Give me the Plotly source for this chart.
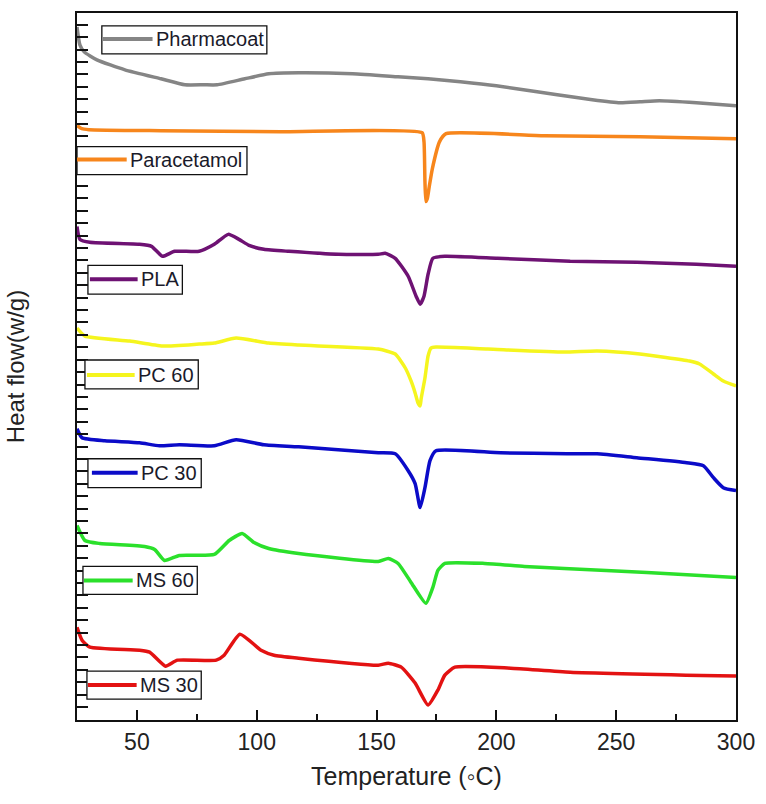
import plotly.graph_objects as go

# Temperature (°C) and heat flow (arbitrary offset units)
pharmacoat_T = [25, 26.2, 28, 33.3, 45, 60, 70, 78, 83.5, 95, 105, 117.5, 140, 159, 171.5, 185, 200, 217, 225.4, 240, 251.6, 260, 268, 283.5, 300]
pharmacoat_hf = [69.5, 67.7, 67.0, 66.2, 65.2, 64.3, 63.7, 63.7, 63.7, 64.3, 64.8, 64.9, 64.8, 64.5, 64.3, 64.0, 63.6, 63.0, 62.7, 62.2, 61.9, 62.0, 62.1, 61.9, 61.6]

paracetamol_T = [25, 27, 30, 60, 110, 169.0, 169.8, 170.2, 170.6, 171.2, 172.0, 173.3, 176.3, 179, 220, 260, 300]
paracetamol_hf = [59.6, 59.3, 59.2, 59.1, 59.0, 58.9, 58.0, 54.0, 52.0, 52.3, 53.5, 55.3, 58.0, 58.8, 58.6, 58.5, 58.3]

pla_T = [25, 26.2, 30.4, 51.1, 56.1, 60.7, 65.7, 76, 82.3, 88.1, 92.6, 96.8, 103, 113.4, 134.1, 150.7, 153.6, 157.8, 163.2, 166.5, 168.2, 169.8, 171.5, 173.5, 178.5, 200.5, 230.8, 258.6, 283.5, 300]
pla_hf = [49.5, 48.2, 47.9, 47.7, 47.5, 46.5, 47.0, 47.0, 47.7, 48.7, 48.2, 47.6, 47.2, 47.0, 46.7, 46.7, 46.8, 46.3, 44.5, 42.5, 41.7, 42.5, 44.7, 46.3, 46.5, 46.3, 46.0, 45.9, 45.7, 45.5]

pc60_T = [25, 28.3, 47, 60.7, 76, 82.3, 91.4, 105, 117.5, 150.7, 157.8, 162, 164.4, 166.1, 167.3, 168.2, 168.6, 170.2, 171.5, 172.7, 174.8, 196.4, 228.3, 242, 259.9, 280.6, 284.8, 290.6, 294.7, 300]
pc60_hf = [39.3, 38.5, 38.0, 37.5, 37.7, 37.8, 38.3, 37.8, 37.6, 37.2, 36.7, 35.3, 34.0, 32.8, 31.8, 31.5, 32.2, 34.3, 36.5, 37.3, 37.4, 37.2, 36.9, 37.0, 36.7, 36.0, 35.7, 34.7, 34.0, 33.5]

pc30_T = [25, 27.1, 36.6, 51.1, 59.4, 67.7, 82.3, 91.4, 103, 117.5, 150.7, 157.8, 163.2, 166.1, 168.2, 170.2, 172.3, 174.8, 201.8, 229.6, 242, 258.6, 279.4, 286.4, 290.6, 294.7, 300]
pc30_hf = [29.2, 28.3, 28.0, 27.8, 27.5, 27.6, 27.5, 28.1, 27.6, 27.4, 26.8, 26.7, 25.0, 23.7, 21.3, 23.3, 26.0, 27.0, 26.8, 26.7, 26.7, 26.3, 25.8, 25.5, 24.3, 23.3, 23.0]

ms60_T = [25, 28.3, 34.5, 53.2, 57.4, 61.5, 67.7, 82.3, 88.5, 93.9, 98.9, 105, 117.5, 150.7, 154.9, 159, 164.4, 170.6, 173.5, 175.6, 178.5, 195.1, 211.7, 228.3, 262.8, 300]
ms60_hf = [19.5, 18.0, 17.7, 17.4, 17.1, 16.0, 16.5, 16.6, 18.0, 18.7, 17.8, 17.2, 16.7, 15.9, 16.2, 15.7, 13.8, 11.7, 13.3, 15.0, 15.7, 15.7, 15.4, 15.2, 14.8, 14.3]

ms30_T = [25, 27.1, 30.4, 51.1, 55.3, 61.9, 66.9, 83.1, 86.4, 93, 101.8, 107.2, 117.5, 150.7, 154.9, 160.3, 166.1, 171.5, 175.6, 178.5, 182.7, 205.9, 230.8, 300]
ms30_hf = [9.3, 8.0, 7.3, 7.0, 6.8, 5.4, 6.0, 6.0, 6.5, 8.6, 7.0, 6.5, 6.2, 5.5, 5.7, 5.3, 3.7, 1.5, 3.0, 4.5, 5.3, 5.2, 4.8, 4.4]

series_names = ["Pharmacoat", "Paracetamol", "PLA", "PC 60", "PC 30", "MS 60", "MS 30"]
series_T = [pharmacoat_T, paracetamol_T, pla_T, pc60_T, pc30_T, ms60_T, ms30_T]
series_hf = [pharmacoat_hf, paracetamol_hf, pla_hf, pc60_hf, pc30_hf, ms60_hf, ms30_hf]
colors = ["#858585", "#F7861C", "#6E1273", "#F5F51E", "#0B0BC8", "#2BE02B", "#E31212"]

x_ticks = [50, 100, 150, 200, 250, 300]

# legend box layout (pixel positions in the 766x804 page)
L, R, T, B = 77, 740, 11, 720
W, H = 766, 804
legend_boxes = [  # x0, y0, x1, y1, line_x0, line_x1, line_y
    (102, 24, 268, 52, 103, 153, 37),
    (77, 145, 248, 173, 77, 127, 158),
    (88, 264, 183, 293, 90, 138, 278),
    (85, 359, 199, 388, 87, 135, 374),
    (88, 458, 202, 487, 92, 138, 472),
    (83, 566, 198, 594, 84, 133, 580),
    (87, 671, 202, 699, 88, 137, 685),
]

def px(x):
    return (x - L) / (R - L)

def py(y):
    return (B - y) / (B - T)

fig = go.Figure()
for name, xs, ys, c in zip(series_names, series_T, series_hf, colors):
    fig.add_trace(go.Scatter(x=xs, y=ys, mode="lines", name=name,
                             line=dict(color=c, width=3.5, shape="spline", smoothing=0.5),
                             showlegend=False))

shapes = []
annotations = []
for (x0, y0, x1, y1, lx0, lx1, ly), name, c in zip(legend_boxes, series_names, colors):
    shapes.append(dict(type="rect", xref="paper", yref="paper", x0=px(x0), x1=px(x1),
                       y0=py(y1), y1=py(y0), line=dict(color="#111", width=1.3),
                       fillcolor="white", layer="above"))
    shapes.append(dict(type="line", xref="paper", yref="paper", x0=px(lx0), x1=px(lx1),
                       y0=py(ly), y1=py(ly), line=dict(color=c, width=4), layer="above"))
    annotations.append(dict(xref="paper", yref="paper", x=px(lx1 + 1), y=py(ly),
                            xanchor="left", yanchor="middle", showarrow=False,
                            text=name, font=dict(family="Liberation Sans, Arial", size=20, color="#1a1a2a")))

fig.update_layout(
    width=W, height=H,
    margin=dict(l=L, r=W - R, t=T, b=H - B),
    paper_bgcolor="white", plot_bgcolor="white",
    font=dict(family="Liberation Sans, Arial", color="#222"),
    shapes=shapes, annotations=annotations,
    xaxis=dict(range=[25, 300], tickvals=x_ticks, ticks="inside", ticklen=10, tickwidth=1.5,
               tickcolor="#111", showline=True, linecolor="#111", linewidth=2, mirror=True,
               showgrid=False, zeroline=False, tickfont=dict(size=23, color="#222"),
               minor=dict(dtick=25, tick0=25, ticks="inside", ticklen=6, tickcolor="#111", showgrid=False),
               title=dict(text="Temperature (◦C)", font=dict(size=25, color="#222"), standoff=14)),
    yaxis=dict(range=[0, 70.9], tick0=1.3, dtick=1.244, ticks="inside", ticklen=11, tickwidth=1.5,
               tickcolor="#111", showticklabels=False, showline=True, linecolor="#111", linewidth=2,
               mirror=True, showgrid=False, zeroline=False,
               title=dict(text="Heat flow(w/g)", font=dict(size=24, color="#222"), standoff=44)),
)
fig.write_html("out.html")
